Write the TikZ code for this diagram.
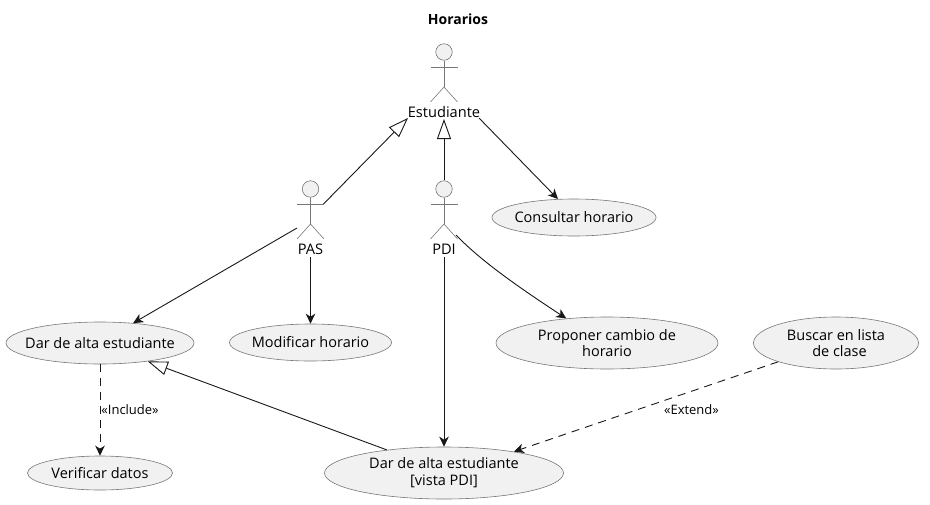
\documentclass[tikz,border=0pt]{standalone}
\usepackage{fontspec}
\setmainfont{Open Sans}
\usetikzlibrary{arrows.meta,shapes.geometric}
\definecolor{ink}{HTML}{181818}
\definecolor{edgegray}{HTML}{777777}
\definecolor{usefill}{HTML}{F1F1F1}
\tikzset{
  usecase/.style={ellipse,draw=edgegray,line width=0.6pt,fill=usefill,inner xsep=-60pt,inner ysep=-30pt,align=center,font=\fontsize{14.5}{16.8}\selectfont,text=black},
  actorhead/.style={circle,draw=edgegray,line width=0.6pt,fill=usefill,inner sep=0pt,minimum size=16.5pt},
  actorline/.style={draw=edgegray,line width=0.6pt},
  actorlabel/.style={inner sep=0pt,minimum height=16pt,font=\fontsize{14.6}{16}\selectfont,text=black},
  conn/.style={draw=ink,line width=0.9pt},
  assoc/.style={conn,-{Stealth[length=10pt,width=9.5pt,inset=3pt]}},
  dep/.style={assoc,dash pattern=on 8pt off 6pt},
  inherit/.style={conn,-{Triangle[open,length=20pt,width=14pt,fill=white]}},
  stereotype/.style={inner sep=0pt,font=\fontsize{13}{15}\selectfont,text=black}
}
\newcommand{\umlactor}[4]{% name, x, y of head centre, label
  \node[actorhead] (#1head) at (#2,#3) {};
  \draw[actorline] (#1head.south) -- (#2,#3+35);
  \draw[actorline] (#2-13.5,#3+15) -- (#2+13.5,#3+15);
  \draw[actorline] (#2-13.5,#3+50) -- (#2,#3+35) -- (#2+13.5,#3+50);
  \node[actorlabel] (#1) at (#2,#3+60) {#4};
}
\begin{document}
\begin{tikzpicture}[x=1pt,y=-1pt]
\useasboundingbox (0,0) rectangle (930,504);
\node[font=\fontsize{14}{16}\selectfont\bfseries,inner sep=0pt] (title) at (458,19) {Horarios};
\umlactor{est}{444}{52}{Estudiante}
\umlactor{pas}{310.5}{189}{PAS}
\umlactor{pdi}{444}{189}{PDI}
\coordinate (pasarm) at (323.5,204);
\coordinate (pasleft) at (297,228);
\coordinate (pdileg) at (456,235);
\node[usecase,minimum width=164pt,minimum height=37pt] (consultar) at (574,217.5) {Consultar horario};
\node[usecase,minimum width=188pt,minimum height=42pt] (alta) at (100,343) {Dar de alta estudiante};
\node[usecase,minimum width=162pt,minimum height=37pt] (modificar) at (310.5,342.5) {Modificar horario};
\node[usecase,minimum width=222pt,minimum height=52pt] (proponer) at (607,343) {Proponer cambio de\\horario};
\node[usecase,minimum width=165pt,minimum height=52pt] (buscar) at (836,343) {Buscar en lista\\\hspace*{7pt}de clase};
\node[usecase,minimum width=145pt,minimum height=34pt] (verificar) at (100,473) {Verificar datos};
\node[usecase,minimum width=239pt,minimum height=52pt] (vista) at (444,473) {Dar de alta estudiante\\{[vista PDI]}};
\draw[inherit] (pasarm) -- (408,118);
\draw[inherit] (pdihead.north) -- (444,119);
\draw[assoc] (479,118) -- (consultar.131.5);
\draw[assoc] (pasleft) -- (alta.31);
\draw[assoc] (pas.south) -- (modificar.north);
\draw[assoc] (pdi.south) -- (vista.north);
\draw[assoc] (pdileg) .. controls (482,262) and (520,288) .. (proponer.149);
\draw[inherit] (vista.158.7) -- (alta.-21.4);
\draw[dep] (alta.south) -- (verificar.north) node[stereotype,pos=0.5,right=1pt] (inc) {«Include»};
\draw[dep] (buscar.198.4) -- (vista.17.6);
\node[stereotype] (ext) at (691.5,410) {«Extend»};
\end{tikzpicture}
\end{document}
